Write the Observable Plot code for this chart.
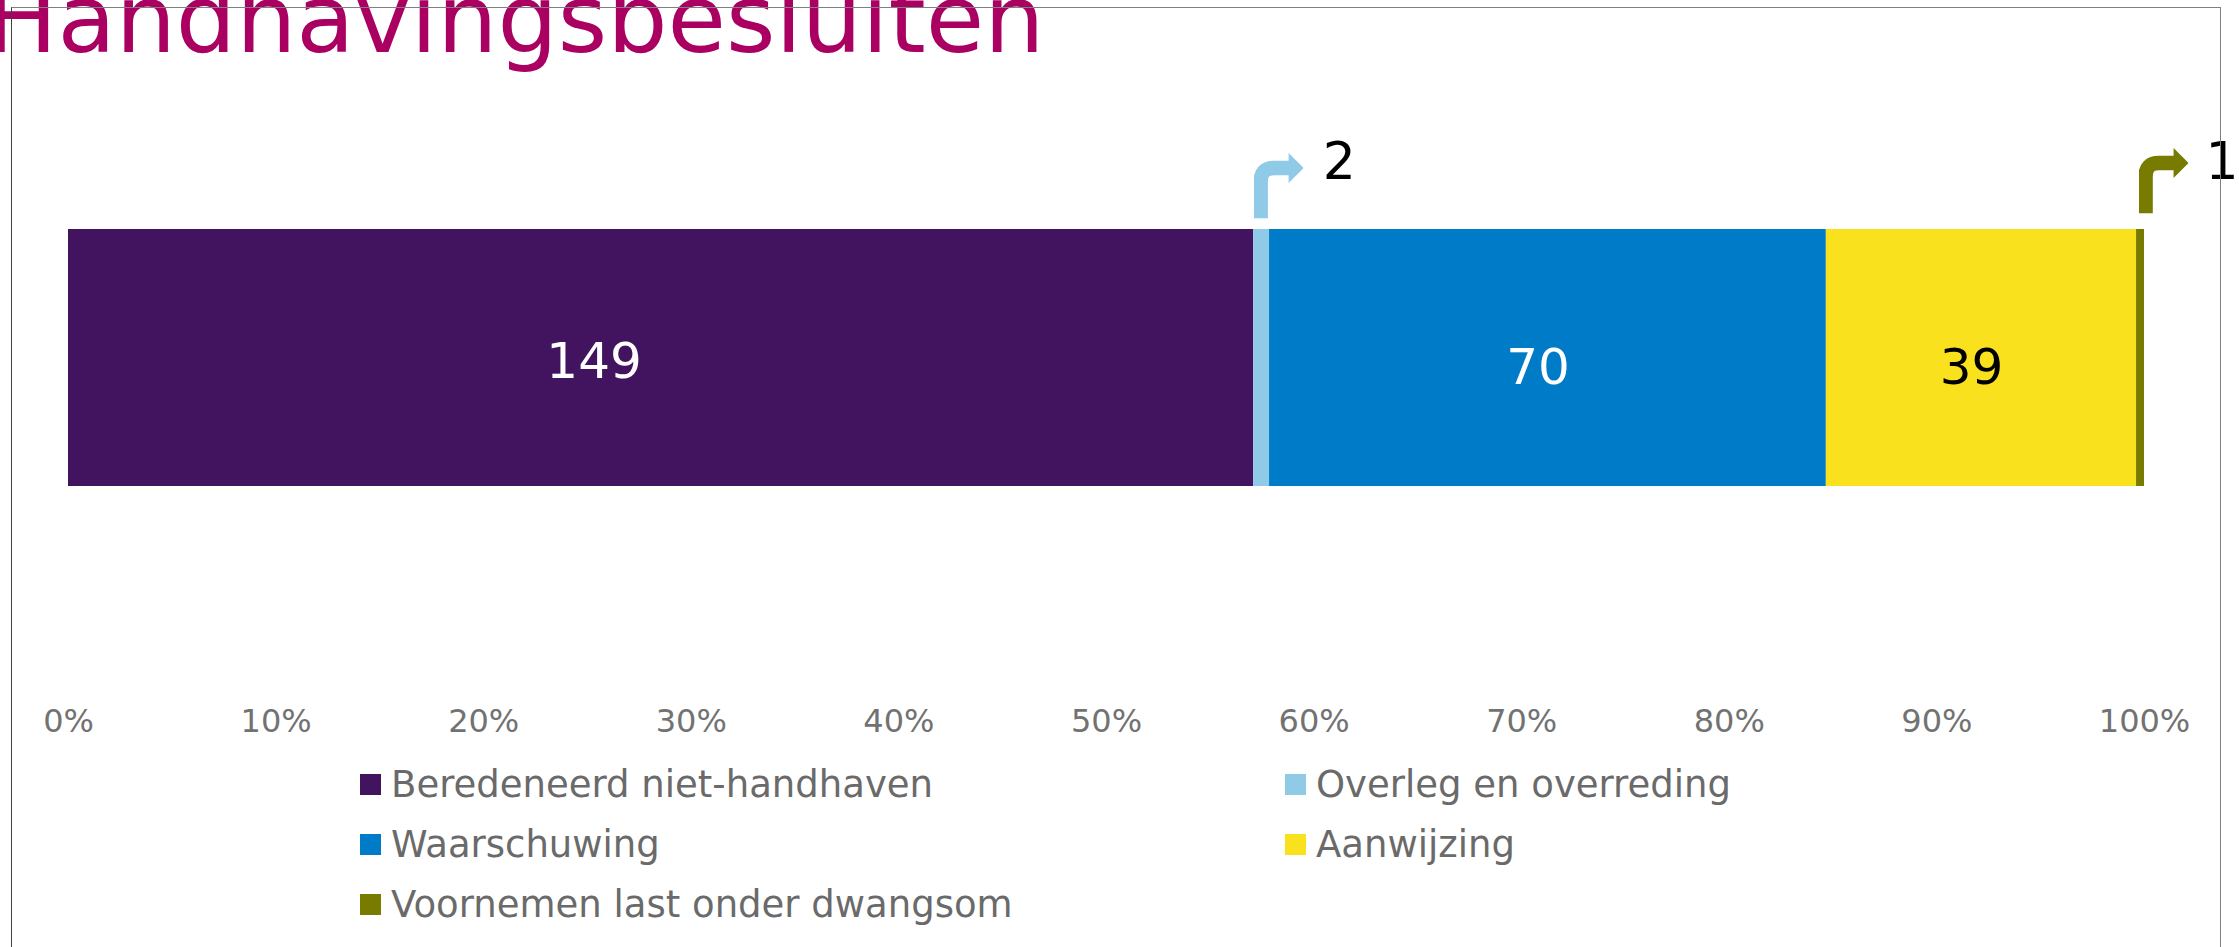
<!DOCTYPE html>
<html>
<head>
<meta charset="utf-8">
<script src="https://cdn.jsdelivr.net/npm/d3@7"></script>
<script src="https://cdn.jsdelivr.net/npm/@observablehq/plot@0.6"></script>
<style>
html, body { margin: 0; padding: 0; background: #fff; }
#page { position: relative; width: 2239px; height: 947px; overflow: hidden; font-family: "DejaVu Sans", Verdana, sans-serif; }
#frame { position: absolute; left: 11px; top: 7px; width: 2208px; height: 1000px;
  border-left: 1.5px solid #404040; border-top: 1.5px solid #808080; border-right: 1.5px solid #808080;
  z-index: 5; pointer-events: none; }
#title { position: absolute; left: -14px; top: -28px; font-size: 95px; line-height: 95px; color: #A90061; white-space: nowrap; }
#chart { position: absolute; left: 0; top: 0; }
#legend { position: absolute; left: 360px; top: 754px; display: grid; grid-template-columns: 925px auto; grid-auto-rows: 60px; }
.item { display: flex; align-items: center; font-size: 37px; color: #6a6a6a; white-space: nowrap; }
.sw { width: 21px; height: 21px; margin-right: 10px; flex: none; }
</style>
</head>
<body>
<div id="page">
  <div id="title">Handhavingsbesluiten</div>
  <div id="chart"></div>
  <div id="legend"></div>
  <div id="frame"></div>
</div>
<script>
// ---- data ----
const categories = ["Beredeneerd niet-handhaven", "Overleg en overreding", "Waarschuwing", "Aanwijzing", "Voornemen last onder dwangsom"];
const counts = [149, 2, 70, 39, 1];
const palette = ["#42145F", "#8FCAE7", "#007BC7", "#F9E11E", "#777C00"];
const tickValues = [0, 0.1, 0.2, 0.3, 0.4, 0.5, 0.6, 0.7, 0.8, 0.9, 1];

// ---- derived table ----
const total = d3.sum(counts);
let cum = 0;
const rows = categories.map((c, i) => {
  const x1 = cum / total;
  cum += counts[i];
  return {category: c, count: counts[i], x1, x2: cum / total, idx: i};
});
const colorOf = c => palette[categories.indexOf(c)];

function arrowSrc(col) {
  const svg = `<svg xmlns="http://www.w3.org/2000/svg" width="50" height="66" viewBox="0 0 50 66">
<path d="M7 66 V29 Q7 15.5 20.5 15.5 H37" fill="none" stroke="${col}" stroke-width="14.5"/>
<polygon points="35,0.5 50,15.5 35,30.5" fill="${col}"/></svg>`;
  return "data:image/svg+xml;charset=utf-8," + encodeURIComponent(svg);
}

const big = rows.filter(d => d.count > 10);
const small = rows.filter(d => d.count <= 10);

const W = 2239, H = 760;
const chart = Plot.plot({
  width: W,
  height: H,
  marginLeft: 68,
  marginRight: 95,
  marginTop: 229,
  marginBottom: H - 486,
  x: {domain: [0, 1]},
  color: {domain: categories, range: palette},
  style: {fontFamily: "'DejaVu Sans', Verdana, sans-serif", background: "transparent", overflow: "visible"},
  marks: [
    Plot.barX(rows, {x1: "x1", x2: "x2", fill: "category"}),
    Plot.axisX({ticks: tickValues, tickFormat: d3.format(".0%"), tickSize: 0, tickPadding: 223, fontSize: 32, color: "#727272"}),
    // labels inside the bar
    Plot.text(big.filter(d => d.idx === 0), {x: d => (d.x1 + d.x2) / 2, text: d => String(d.count), fill: "white", fontSize: 50, dx: -67, dy: 4}),
    Plot.text(big.filter(d => d.idx !== 0), {x: d => (d.x1 + d.x2) / 2, text: d => String(d.count), fill: d => d.idx === 3 ? "black" : "white", fontSize: 50, dx: -10, dy: 10}),
    // bent-arrow call-outs for small segments
    Plot.image(small.filter(d => d.idx === 1), {x: "x1", frameAnchor: "top", src: d => arrowSrc(colorOf(d.category)), width: 50, height: 66, dx: 25, dy: -44}),
    Plot.image(small.filter(d => d.idx === 4), {x: "x1", frameAnchor: "top", src: d => arrowSrc(colorOf(d.category)), width: 50, height: 66, dx: 27, dy: -49}),
    Plot.text(small, {x: "x1", text: d => String(d.count), frameAnchor: "top", lineAnchor: "bottom", textAnchor: "start", fontSize: 52, fill: "black", dx: 69, dy: -51})
  ]
});
document.getElementById("chart").appendChild(chart);

// ---- legend ----
const legendOrder = [0, 1, 2, 3, 4];
const legend = document.getElementById("legend");
legendOrder.forEach(i => {
  const item = document.createElement("div");
  item.className = "item";
  const sw = document.createElement("span");
  sw.className = "sw";
  sw.style.background = palette[i];
  const t = document.createElement("span");
  t.textContent = categories[i];
  item.appendChild(sw);
  item.appendChild(t);
  legend.appendChild(item);
});
</script>
</body>
</html>
